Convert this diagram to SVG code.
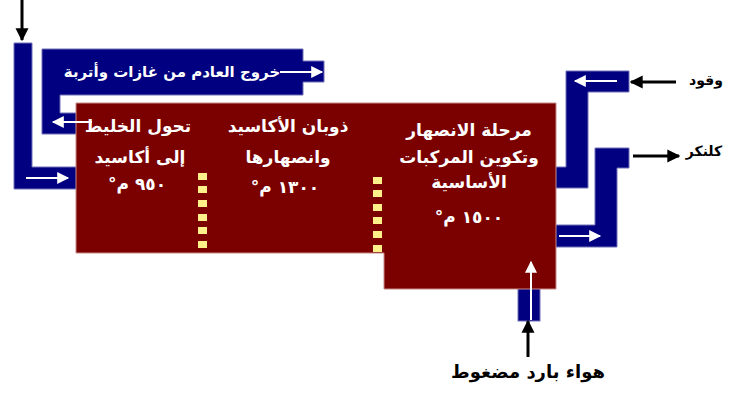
<svg xmlns="http://www.w3.org/2000/svg" width="735" height="393" viewBox="0 0 735 393">
<style>
.duct{fill:#000080;stroke:#7070b8;stroke-width:1}
.kiln{fill:#7b0000;stroke:#c88a8a;stroke-width:1}
.brick{fill:#fff08a}
.wt{fill:#ffffff;font-family:"DejaVu Sans",sans-serif;font-weight:bold;font-size:17px}
.ex{fill:#ffffff;font-family:"DejaVu Sans",sans-serif;font-weight:bold;font-size:15px}
.bt{fill:#000000;font-family:"DejaVu Sans",sans-serif;font-weight:bold;font-size:14px}
.bb{fill:#000000;font-family:"DejaVu Sans",sans-serif;font-weight:bold;font-size:18px}
.wl{stroke:#ffffff;stroke-width:2;fill:none}
.bl{stroke:#000000;stroke-width:3;fill:none}
</style>
<defs>
<marker id="wh2" viewBox="0 0 10 10" refX="9" refY="5" markerWidth="14" markerHeight="12" markerUnits="userSpaceOnUse" orient="auto"><path d="M0,0 L10,5 L0,10 z" fill="#ffffff"/></marker>
<marker id="bh" viewBox="0 0 10 10" refX="9" refY="5" markerWidth="13" markerHeight="14" markerUnits="userSpaceOnUse" orient="auto"><path d="M0,0 L10,5 L0,10 z" fill="#000000"/></marker>
</defs>

<g id="ducts">
<path class="duct" d="M14,43 H32 V167 H78 V189 H14 Z"/>
<path class="duct" d="M42,49 H303 V61 H324 V82 H303 V95 H60 V113 H78 V134 H42 Z"/>
<path class="duct" d="M554,167 H566 V71 H629 V92 H588 V188 H554 Z"/>
<path class="duct" d="M554,225 H595 V148 H629 V168 H617 V247 H554 Z"/>
<rect class="duct" x="518" y="286" width="22" height="35"/>
</g>

<g id="kiln">
<path class="kiln" d="M76,103 H556 V289 H384 V253 H76 Z"/>
</g>

<g id="bricks1">
<rect class="brick" x="198" y="173" width="9" height="7"/>
<rect class="brick" x="198" y="186" width="9" height="7"/>
<rect class="brick" x="198" y="200" width="9" height="7"/>
<rect class="brick" x="198" y="214" width="9" height="7"/>
<rect class="brick" x="198" y="227" width="9" height="7"/>
<rect class="brick" x="198" y="241" width="9" height="7"/>
</g>
<g id="bricks2">
<rect class="brick" x="373" y="177" width="9" height="7"/>
<rect class="brick" x="373" y="190" width="9" height="7"/>
<rect class="brick" x="373" y="204" width="9" height="7"/>
<rect class="brick" x="373" y="217" width="9" height="7"/>
<rect class="brick" x="373" y="231" width="9" height="7"/>
<rect class="brick" x="373" y="245" width="9" height="7"/>
</g>

<g id="zone1">
<text class="wt" x="138" y="132" text-anchor="middle" direction="rtl">تحول الخليط</text>
<text class="wt" x="140" y="163" text-anchor="middle" direction="rtl">إلى أكاسيد</text>
<text class="wt" x="137" y="190" text-anchor="middle" direction="rtl">٩٥٠ م°</text>
</g>
<g id="zone2">
<text class="wt" x="288" y="132" text-anchor="middle" direction="rtl">ذوبان الأكاسيد</text>
<text class="wt" x="288" y="163" text-anchor="middle" direction="rtl">وانصهارها</text>
<text class="wt" x="285" y="193" text-anchor="middle" direction="rtl">١٣٠٠ م°</text>
</g>
<g id="zone3">
<text class="wt" x="469" y="136" text-anchor="middle" direction="rtl">مرحلة الانصهار</text>
<text class="wt" x="469" y="163" text-anchor="middle" direction="rtl">وتكوين المركبات</text>
<text class="wt" x="469" y="188" text-anchor="middle" direction="rtl">الأساسية</text>
<text class="wt" x="469" y="223" text-anchor="middle" direction="rtl">١٥٠٠ م°</text>
</g>
<g id="exhaust">
<text class="ex" x="172" y="77" text-anchor="middle" direction="rtl">خروج العادم من غازات وأتربة</text>
</g>
<g id="labels">
<text class="bt" x="706" y="85" text-anchor="middle" direction="rtl">وقود</text>
<text class="bt" x="704" y="156" text-anchor="middle" direction="rtl">كلنكر</text>
<text class="bb" x="528" y="378" text-anchor="middle" direction="rtl">هواء بارد مضغوط</text>
</g>

<g id="connectors">
<line class="wl" x1="280" y1="72" x2="322" y2="72" marker-end="url(#wh2)"/>
<line class="wl" x1="92" y1="122" x2="53" y2="122" marker-end="url(#wh2)"/>
<line class="wl" x1="26" y1="178" x2="68" y2="178" marker-end="url(#wh2)"/>
<line class="wl" x1="617" y1="81" x2="575" y2="81" marker-end="url(#wh2)"/>
<line class="wl" x1="559" y1="236" x2="600" y2="236" marker-end="url(#wh2)"/>
<line class="wl" x1="531" y1="320" x2="531" y2="262" marker-end="url(#wh2)"/>
<line class="bl" x1="22" y1="0" x2="22" y2="40" marker-end="url(#bh)"/>
<line class="bl" x1="676" y1="82" x2="631" y2="82" marker-end="url(#bh)"/>
<line class="bl" x1="633" y1="156" x2="679" y2="156" marker-end="url(#bh)"/>
<line class="bl" x1="528" y1="357" x2="528" y2="321" marker-end="url(#bh)"/>
</g>
</svg>
